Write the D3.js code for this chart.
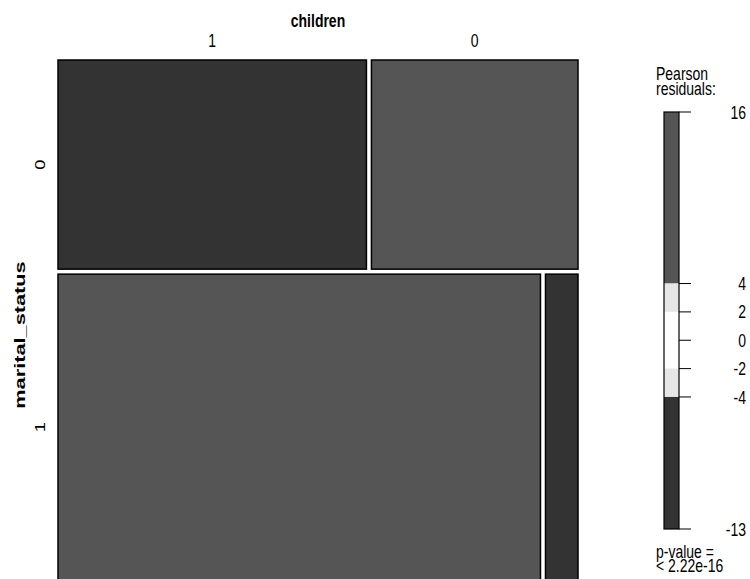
<!DOCTYPE html>
<html>
<head>
<meta charset="utf-8">
<script src="https://cdn.jsdelivr.net/npm/d3@7"></script>
<style>
  body { margin: 0; background: #fff; }
  svg { display: block; font-family: "Liberation Sans", Arial, Helvetica, sans-serif; }
</style>
</head>
<body>
<svg id="chart" width="750" height="579"></svg>
<script>
// ---- data ----
const rowVar = "marital_status";
const colVar = "children";
const rowLevels = ["0", "1"];          // marital_status, top to bottom
const colLevels = ["1", "0"];          // children, left to right
// observed counts: rows = marital_status, columns = children
const countsRow0 = [772, 517];
const countsRow1 = [1766, 119];
const legendTicks = [4, 2, 0, -2, -4];
const pValueText = ["p-value =", "< 2.22e-16"];
const legendTitle = ["Pearson", "residuals:"];

const counts = [countsRow0, countsRow1];
const N = d3.sum(counts.flat());
const rowTot = counts.map(r => d3.sum(r));
const colTot = colLevels.map((_, j) => d3.sum(counts, r => r[j]));
const resid = counts.map((r, i) => r.map((o, j) => {
  const e = rowTot[i] * colTot[j] / N;
  return (o - e) / Math.sqrt(e);
}));
const rMax = d3.max(resid.flat()), rMin = d3.min(resid.flat());

function shade(v) {
  if (v > 4) return "#555555";
  if (v > 2) return "#e6e6e6";
  if (v >= -2) return "#ffffff";
  if (v >= -4) return "#e6e6e6";
  return "#333333";
}

const svg = d3.select("#chart");
const X0 = 58, X1 = 578, Y0 = 60, Y1 = 580, GAP = 5;
const SY = 1.3; // vertical stretch of horizontal text

function htext(x, y, txt, opts = {}) {
  const t = svg.append("g").attr("transform", `translate(${x},${y}) scale(1,${SY})`)
    .append("text").attr("x", 0).attr("y", 0)
    .attr("font-size", opts.size || 14)
    .attr("text-anchor", opts.anchor || "start")
    .attr("font-weight", opts.bold ? "bold" : "normal")
    .text(txt);
  if (opts.dy) t.attr("dy", opts.dy);
  return t;
}
function vtext(x, y, txt, opts = {}) {
  return svg.append("g").attr("transform", `translate(${x},${y}) rotate(-90) scale(${opts.sx || 1.3},1)`)
    .append("text").attr("x", 0).attr("y", 0)
    .attr("font-size", opts.size || 14)
    .attr("text-anchor", "middle")
    .attr("font-weight", opts.bold ? "bold" : "normal")
    .text(txt);
}

// row scale (heights proportional to row totals)
const yScale = d3.scaleLinear().domain([0, N]).range([0, (Y1 - Y0) - GAP]);
const cumRow = d3.cumsum(rowTot);
const rows = rowLevels.map((lv, i) => {
  const y = Y0 + yScale(i ? cumRow[i - 1] : 0) + i * GAP;
  return { lv, i, y, h: yScale(rowTot[i]) };
});

const g = svg.append("g");
rows.forEach(row => {
  const xScale = d3.scaleLinear().domain([0, rowTot[row.i]]).range([0, (X1 - X0) - GAP]);
  let acc = 0;
  counts[row.i].forEach((c, j) => {
    const x = X0 + xScale(acc) + j * GAP;
    acc += c;
    g.append("rect")
      .attr("x", x).attr("y", row.y)
      .attr("width", xScale(c)).attr("height", row.h)
      .attr("fill", shade(resid[row.i][j]))
      .attr("stroke", "#000").attr("stroke-width", 1.5);
  });
});

// column labels (positions from top row)
const xTop = d3.scaleLinear().domain([0, rowTot[0]]).range([0, (X1 - X0) - GAP]);
let accT = 0;
colLevels.forEach((lv, j) => {
  const x = X0 + xTop(accT) + j * GAP;
  const w = xTop(counts[0][j]);
  accT += counts[0][j];
  htext(x + w / 2, 46.5, lv, { anchor: "middle" });
});
htext((X0 + X1) / 2, 26.5, colVar, { anchor: "middle", bold: true });

// row labels
rows.forEach(row => {
  vtext(45, row.y + row.h / 2, row.lv);
});
vtext(25, 335, rowVar, { bold: true, size: 15, sx: 1.45 });

// legend
const LX = 664, LW = 15, LT = 112, LB = 529;
const ls = d3.scaleLinear().domain([rMin, rMax]).range([LB, LT]);
const bands = [[4, rMax], [2, 4], [-2, 2], [-4, -2], [rMin, -4]];
const lg = svg.append("g");
bands.forEach(([lo, hi]) => {
  lg.append("rect").attr("x", LX).attr("y", ls(hi)).attr("width", LW)
    .attr("height", ls(lo) - ls(hi)).attr("fill", shade((lo + hi) / 2));
});
lg.append("rect").attr("x", LX).attr("y", LT).attr("width", LW).attr("height", LB - LT)
  .attr("fill", "none").attr("stroke", "#000").attr("stroke-width", 1.2);
const allTicks = [rMax, ...legendTicks, rMin];
allTicks.forEach(v => {
  lg.append("line").attr("x1", LX + LW).attr("x2", LX + LW + 12)
    .attr("y1", ls(v)).attr("y2", ls(v)).attr("stroke", "#000").attr("stroke-width", 1);
  htext(746, ls(v), Math.trunc(v), { anchor: "end", dy: "0.36em" });
});
legendTitle.forEach((t, i) => {
  htext(656, 80 + i * 15, t);
});
pValueText.forEach((t, i) => {
  htext(656, 558 + i * 14, t);
});
</script>
</body>
</html>
